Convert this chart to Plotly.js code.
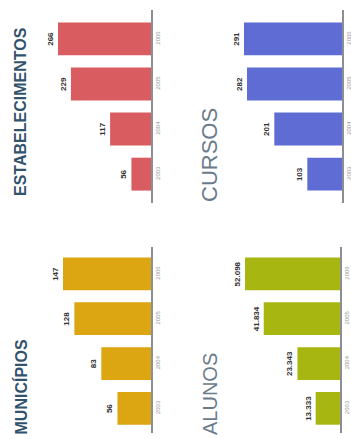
<!DOCTYPE html>
<html>
<head>
<meta charset="utf-8">
<script src="https://cdn.plot.ly/plotly-3.0.1.min.js"></script>
<style>
  html, body { margin: 0; padding: 0; background: #ffffff; }
  #chart { width: 351px; height: 439px; }
</style>
</head>
<body>
<div id="chart"></div>
<script>
// ---- data ----
var years = ["2003", "2004", "2005", "2006"];
var municipios = [56, 83, 128, 147];
var estabelecimentos = [56, 117, 229, 266];
var alunos = [13333, 23343, 41834, 52098];
var cursos = [103, 201, 282, 291];

var titles = ["ESTABELECIMENTOS", "CURSOS", "MUNICÍPIOS", "ALUNOS"];

// ---- helpers ----
var W = 351, H = 439;
function px(x) { return x / W; }
function py(y) { return 1 - y / H; }

function barTrace(vals, color, xa, ya) {
  return {
    type: "bar",
    orientation: "h",
    y: years,
    x: vals,
    xaxis: xa,
    yaxis: ya,
    marker: { color: color, line: { width: 0 } },
    texttemplate: "%{x:,}",
    textposition: "outside",
    textangle: -90,
    textfont: { family: "Liberation Sans, Arial, sans-serif", size: 8, color: "#333333", weight: "bold" },
    cliponaxis: false,
    hoverinfo: "skip",
    showlegend: false
  };
}

var data = [
  barTrace(estabelecimentos, "#d95c60", "x", "y"),
  barTrace(cursos, "#5f6cd4", "x2", "y2"),
  barTrace(municipios, "#dca512", "x3", "y3"),
  barTrace(alunos, "#a8b612", "x4", "y4")
];

function xAxis(domPx, maxVal, anchor) {
  return {
    domain: [px(domPx[0]), px(domPx[1])],
    range: [maxVal, 0],
    anchor: anchor,
    showline: false, showgrid: false, zeroline: false,
    showticklabels: false, ticks: ""
  };
}
function yAxis(domPx, rng, anchor) {
  return {
    domain: [py(domPx[1]), py(domPx[0])],
    type: "category",
    range: rng,
    anchor: anchor,
    side: "right",
    showline: true, linecolor: "#8a8f96", linewidth: 2,
    showgrid: false, zeroline: false,
    ticks: "", ticklen: 0,
    tickangle: -90,
    tickfont: { family: "Liberation Sans, Arial, sans-serif", size: 6, color: "#9a9a9a" }
  };
}

var layout = {
  width: W, height: H,
  margin: { l: 0, r: 0, t: 0, b: 0, pad: 0 },
  paper_bgcolor: "#ffffff",
  plot_bgcolor: "rgba(0,0,0,0)",
  separators: ",.",
  bargap: 0.27,
  showlegend: false,
  xaxis: xAxis([40, 151], 317.5, "y"),
  yaxis: yAxis([10, 203], [-0.64, 3.64], "x"),
  xaxis2: xAxis([232, 342], 326.6, "y2"),
  yaxis2: yAxis([10, 203], [-0.64, 3.64], "x2"),
  xaxis3: xAxis([40, 151], 185.4, "y3"),
  yaxis3: yAxis([247, 433], [-0.55, 3.6], "x3"),
  xaxis4: xAxis([232, 340], 59240, "y4"),
  yaxis4: yAxis([247, 433], [-0.55, 3.6], "x4"),
  annotations: [
    { text: titles[0], xref: "paper", yref: "paper", x: px(21), y: py(112),
      xanchor: "center", yanchor: "middle", textangle: -90, showarrow: false,
      font: { family: "Liberation Sans, Arial, sans-serif", size: 16, color: "#33536d", weight: "bold" } },
    { text: titles[1], xref: "paper", yref: "paper", x: px(209), y: py(155),
      xanchor: "center", yanchor: "middle", textangle: -90, showarrow: false,
      font: { family: "Liberation Sans, Arial, sans-serif", size: 22, color: "#6a7b8c" } },
    { text: titles[2], xref: "paper", yref: "paper", x: px(20), y: py(437),
      xanchor: "center", yanchor: "bottom", textangle: -90, showarrow: false,
      font: { family: "Liberation Sans, Arial, sans-serif", size: 16, color: "#33536d", weight: "bold" } },
    { text: titles[3], xref: "paper", yref: "paper", x: px(210), y: py(437),
      xanchor: "center", yanchor: "bottom", textangle: -90, showarrow: false,
      font: { family: "Liberation Sans, Arial, sans-serif", size: 20, color: "#6a7b8c" } }
  ]
};

Plotly.newPlot("chart", data, layout, { staticPlot: true, displayModeBar: false });
</script>
</body>
</html>
